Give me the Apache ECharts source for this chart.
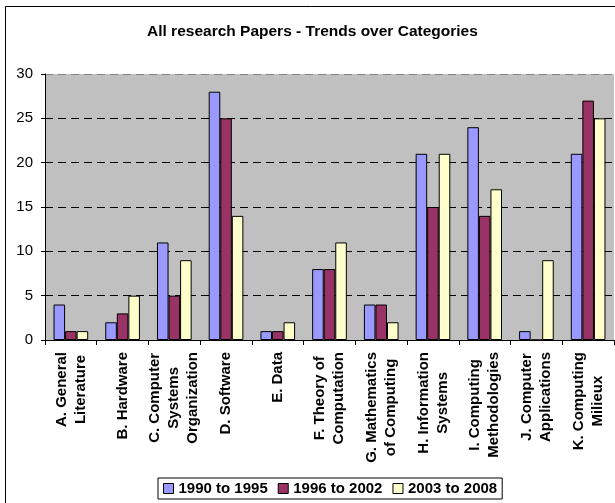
<!DOCTYPE html>
<html>
<head>
<meta charset="utf-8">
<script src="https://cdn.jsdelivr.net/npm/echarts@6/dist/echarts.min.js"></script>
<style>
  html, body { margin: 0; padding: 0; background: #fff; }
  #chart { width: 615px; height: 503px; }
</style>
</head>
<body>
<div id="chart"></div>
<script>
// categories (tick labels, with their line breaks)
const categories = [
  "A. General\nLiterature",
  "B. Hardware",
  "C. Computer\nSystems\nOrganization",
  "D. Software",
  "E. Data",
  "F. Theory of\nComputation",
  "G. Mathematics\nof Computing",
  "H. Information\nSystems",
  "I. Computing\nMethodologies",
  "J. Computer\nApplications",
  "K. Computing\nMilieux"
];

const seriesNames = ["1990 to 1995", "1996 to 2002", "2003 to 2008"];
const papers1990to1995 = [4, 2, 11, 28, 1, 8, 4, 21, 24, 1, 21];
const papers1996to2002 = [1, 3, 5, 25, 1, 8, 4, 15, 14, 0, 27];
const papers2003to2008 = [1, 5, 9, 14, 2, 11, 2, 21, 17, 9, 25];

const yTicks = [0, 5, 10, 15, 20, 25, 30];

const FONT = "'Liberation Sans', Arial, sans-serif";
const colors = ["#9999ff", "#993366", "#ffffcc"];

const chart = echarts.init(document.getElementById("chart"));

function barSeries(name, data, color) {
  return {
    name,
    type: "bar",
    data,
    barGap: "0%",
    barCategoryGap: "33%",
    itemStyle: { color, borderColor: "#000", borderWidth: 1 },
  };
}

chart.setOption({
  backgroundColor: "#fff",
  animation: false,
  title: {
    text: "All research Papers - Trends over Categories",
    left: 147,
    top: 24,
    padding: 0,
    textStyle: { fontFamily: FONT, fontSize: 15.5, fontWeight: "bold", color: "#000" },
  },
  graphic: [
    {
      type: "rect",
      shape: { x: 5.5, y: 6.5, width: 700, height: 700 },
      style: { fill: null, stroke: "#000", lineWidth: 1 },
      silent: true,
    },
  ],
  legend: {
    left: 158,
    top: 478,
    padding: [3, 5],
    itemGap: 10,
    itemWidth: 10,
    itemHeight: 10,
    icon: "rect",
    borderColor: "#000",
    borderWidth: 1,
    backgroundColor: "#fff",
    itemStyle: { borderColor: "#000", borderWidth: 1 },
    textStyle: { fontFamily: FONT, fontSize: 15, fontWeight: "bold", color: "#000" },
  },
  grid: {
    left: 45,
    right: 1,
    top: 74,
    bottom: 163,
    show: true,
    backgroundColor: "#c0c0c0",
    borderWidth: 0,
  },
  xAxis: {
    type: "category",
    data: categories,
    axisLine: { lineStyle: { color: "#000", width: 1 } },
    axisTick: { show: true, length: 5, interval: 0, lineStyle: { color: "#000" } },
    axisLabel: {
      interval: 0,
      rotate: 90,
      margin: 12,
      formatter: (v) => v.split("\n").map((l) => "{c|" + l + "}").join("\n"),
      rich: {
        c: {
          align: "center",
          fontFamily: FONT,
          fontSize: 15,
          fontWeight: "bold",
          color: "#000",
          lineHeight: 19,
        },
      },
    },
  },
  yAxis: {
    type: "value",
    min: yTicks[0],
    max: yTicks[yTicks.length - 1],
    interval: yTicks[1] - yTicks[0],
    axisLine: { show: true, lineStyle: { color: "#000", width: 1 } },
    axisTick: { show: true, length: 4, lineStyle: { color: "#000" } },
    axisLabel: {
      margin: 12,
      fontFamily: FONT,
      fontSize: 15,
      color: "#000",
    },
    splitLine: {
      show: true,
      lineStyle: {
        color: ["#000", "#000", "#000", "#000", "#000", "#000", "#808080"],
        type: [8, 5],
        width: 1,
      },
    },
  },
  series: [
    barSeries(seriesNames[0], papers1990to1995, colors[0]),
    barSeries(seriesNames[1], papers1996to2002, colors[1]),
    barSeries(seriesNames[2], papers2003to2008, colors[2]),
  ],
});
</script>
</body>
</html>
